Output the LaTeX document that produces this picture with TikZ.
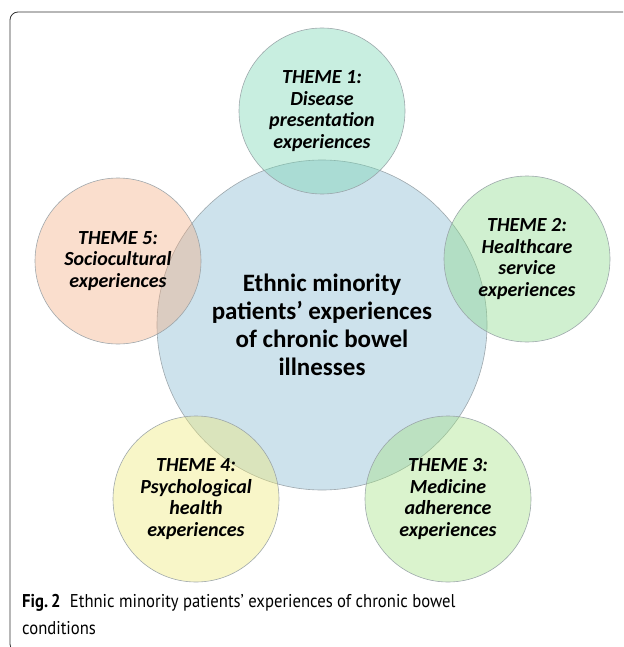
\documentclass[tikz,border=0pt]{standalone}
\usepackage{fontspec}
\setmainfont{Carlito}
\newfontfamily\capfont[FakeStretch=0.9]{PT Sans}

\definecolor{coreblue}{RGB}{145,190,212}
\definecolor{themeteal}{RGB}{117,212,177}
\definecolor{themegreen}{RGB}{137,218,137}
\definecolor{themelime}{RGB}{162,225,130}
\definecolor{themeyellow}{RGB}{238,232,118}
\definecolor{themesalmon}{RGB}{242,172,130}
\definecolor{rimgray}{RGB}{150,160,165}

\tikzset{
	bubble/.style={circle, draw=rimgray, line width=0.6pt, inner sep=0pt, draw opacity=0.9},
	corebubble/.style={bubble, fill opacity=0.45, minimum size=330pt},
	themebubble/.style={bubble, fill opacity=0.4, minimum size=166pt},
	coretext/.style={align=center, font=\fontsize{25}{28}\selectfont\bfseries},
	themetext/.style={align=center, font=\fontsize{20}{21.5}\selectfont\bfseries\itshape},
}

\begin{document}
\begin{tikzpicture}[x=1pt, y=-1pt]
			%%%%% START %%%%%
			\useasboundingbox (0, 0) rectangle (623, 647);
			\clip (0, 0) rectangle (623, 647);
			
			% frame
			\draw[line width=0.8pt, color=black!80, rounded corners=8pt] (10, 12) rectangle (640, 652);
			
			% middle
			\node[corebubble, fill=coreblue] (core) at (322, 325) {};
			
			% themes
			\node[themebubble, fill=themeteal] (t1) at (322, 111) {};
			\node[themebubble, fill=themegreen] (t2) at (527, 259) {};
			\node[themebubble, fill=themelime] (t3) at (448, 499) {};
			\node[themebubble, fill=themeyellow] (t4) at (196, 499) {};
			\node[themebubble, fill=themesalmon] (t5) at (118, 261) {};
			
			\node[coretext] (coretxt) at (core) {Ethnic minority\\patients’ experiences\\of chronic bowel\\illnesses};
			
			\node[themetext] (t1txt) at (t1) {THEME 1:\\Disease\\presentation\\experiences};
			\node[themetext] (t2txt) at (t2) {THEME 2:\\Healthcare\\service\\experiences};
			\node[themetext] (t3txt) at (t3) {THEME 3:\\Medicine\\adherence\\experiences};
			\node[themetext] (t4txt) at (t4) {THEME 4:\\Psychological\\health\\experiences};
			\node[themetext] (t5txt) at (t5) {THEME 5:\\Sociocultural\\experiences};
			
			% caption (base = last line)
			\node[anchor=base west, align=left, inner sep=0pt, font=\capfont\fontsize{18.5}{27}\selectfont] (caption) at (22, 634)
				{\textbf{Fig.\,2}\enspace Ethnic minority patients’ experiences of chronic bowel\\conditions};
			%%%%% END %%%%%
\end{tikzpicture}
\end{document}
